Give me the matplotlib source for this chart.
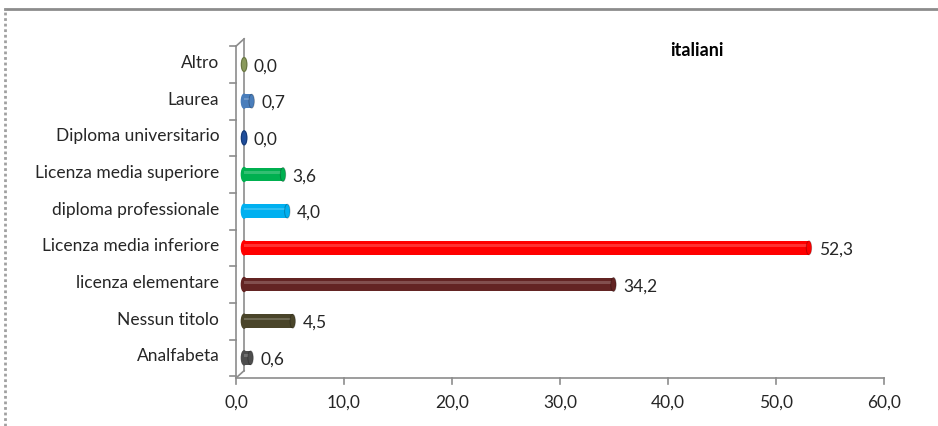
import matplotlib.pyplot as plt
from matplotlib.patches import Ellipse
import numpy as np

# Titolo di studio - italiani (valori percentuali)
categorie = ["Analfabeta", "Nessun titolo", "licenza elementare",
             "Licenza media inferiore", "diploma professionale",
             "Licenza media superiore", "Diploma universitario",
             "Laurea", "Altro"]
valori = [0.6, 4.5, 34.2, 52.3, 4.0, 3.6, 0.0, 0.7, 0.0]
colori = ["#4d4d4d", "#4a452a", "#632423", "#ff0000", "#00b0f0",
          "#00b050", "#1f4e9c", "#4a7ebb", "#8a9a5b"]
tacche_x = [0, 10, 20, 30, 40, 50, 60]

plt.rcParams['font.family'] = ['Lato', 'DejaVu Sans']

fig = plt.figure(figsize=(9.38, 4.26), dpi=100)
ax = fig.add_axes([236 / 938, 48 / 426, 648 / 938, 341 / 426])
ax.set_xlim(0, 60)
ax.set_ylim(-0.55, 8.75)
for s in ax.spines.values():
    s.set_visible(False)

# cornice esterna del grafico
fig.add_artist(plt.Line2D([5 / 938, 1], [1 - 9 / 426, 1 - 9 / 426],
                          color="#8c8c8c", lw=2.0, transform=fig.transFigure))
fig.add_artist(plt.Line2D([5 / 938, 5 / 938], [0, 1 - 9 / 426],
                          color="#a0a0a0", lw=2.0, ls=(0, (1, 1)),
                          transform=fig.transFigure))

# pareti in finta prospettiva 3D
prof_x = 0.75
grigio = "#8c8c8c"
ax.plot([0, 0], [-0.55, 8.5], color=grigio, lw=1.2, clip_on=False)
ax.plot([prof_x, prof_x], [-0.35, 8.7], color=grigio, lw=1.2, clip_on=False)
ax.plot([0, prof_x], [8.5, 8.7], color=grigio, lw=1.2, clip_on=False)
ax.plot([0, prof_x], [-0.55, -0.35], color=grigio, lw=1.2, clip_on=False)
ax.plot([0, 60], [-0.55, -0.55], color=grigio, lw=1.2, clip_on=False)
for t in np.arange(-0.5, 9.0, 1.0):
    ax.plot([-0.55, 0], [t, t], color=grigio, lw=1.2, clip_on=False)
for t in tacche_x:
    ax.plot([t, t], [-0.55, -0.7], color=grigio, lw=1.2, clip_on=False)

ax.set_xticks(tacche_x)
ax.set_xticklabels([f"{t:.1f}".replace(".", ",") for t in tacche_x],
                   fontsize=12.5, color="#262626")
ax.tick_params(axis="x", length=0, pad=12)
ax.set_yticks(np.arange(len(categorie)) + 0.08)
ax.set_yticklabels(categorie, fontsize=12.5, color="#262626")
ax.tick_params(axis="y", length=0, pad=12)

# barre cilindriche
h = 0.38
w_cap = 0.5
y = np.arange(len(categorie))
for yi, v, c in zip(y, valori, colori):
    ax.barh(yi, v, left=prof_x, height=h, color=c, edgecolor="none", zorder=3)
    ax.barh(yi + 0.06, v, left=prof_x, height=0.08, color="white",
            alpha=0.2, edgecolor="none", zorder=4)
    ax.add_patch(Ellipse((prof_x, yi), w_cap, h, color=c, zorder=3))
    ax.add_patch(Ellipse((prof_x + v, yi), w_cap, h, facecolor=c,
                         edgecolor="#00000040", lw=0.7, zorder=5))
    ax.text(prof_x + v + 0.9, yi - 0.05, f"{v:.1f}".replace(".", ","),
            fontsize=12.5, color="#262626", va="center", ha="left", zorder=6)

ax.text(697, 426 - 50, "italiani", transform=None, fontsize=13,
        fontweight="bold", ha="center", va="center")

fig.savefig("out.png", dpi=100)
